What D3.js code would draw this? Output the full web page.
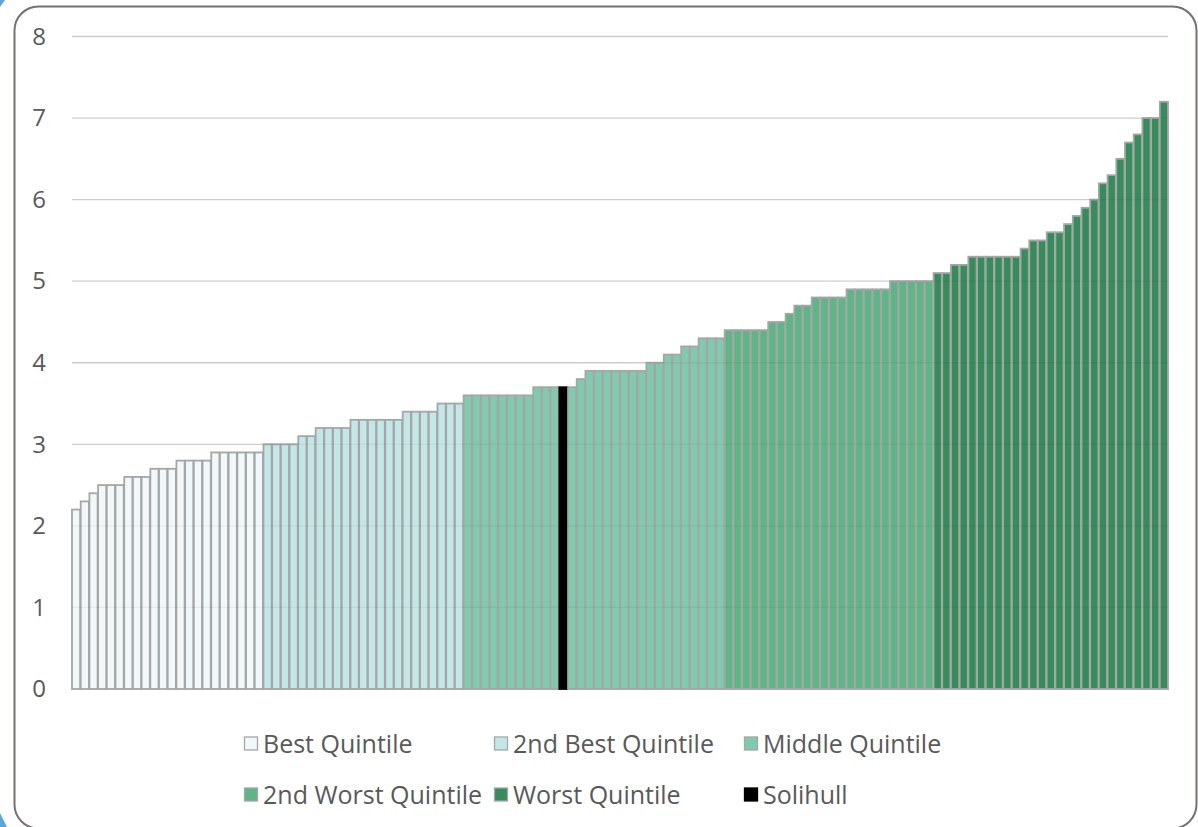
<!DOCTYPE html>
<html>
<head>
<meta charset="utf-8">
<script src="https://cdn.jsdelivr.net/npm/d3@7"></script>
<style>
  body { margin: 0; background: #fff; }
  svg { display: block; }
  .tick text { fill: #595959; }
</style>
</head>
<body>
<svg id="chart" width="1198" height="827"></svg>
<script>
// values, sorted ascending (one bar per area)
const bestValues = [2.2, 2.3, 2.4, 2.5, 2.5, 2.5, 2.6, 2.6, 2.6, 2.7, 2.7, 2.7,
  2.8, 2.8, 2.8, 2.8, 2.9, 2.9, 2.9, 2.9, 2.9, 2.9]
const secondBestValues = [3.0, 3.0, 3.0, 3.0, 3.1, 3.1, 3.2, 3.2, 3.2, 3.2,
  3.3, 3.3, 3.3, 3.3, 3.3, 3.3, 3.4, 3.4, 3.4, 3.4, 3.5, 3.5, 3.5]
const middleValues = [3.6, 3.6, 3.6, 3.6, 3.6, 3.6, 3.6, 3.6, 3.7, 3.7, 3.7,
  3.7, 3.7, 3.8, 3.9, 3.9, 3.9, 3.9, 3.9, 3.9, 3.9, 4.0, 4.0, 4.1, 4.1,
  4.2, 4.2, 4.3, 4.3, 4.3]
const secondWorstValues = [4.4, 4.4, 4.4, 4.4, 4.4, 4.5, 4.5, 4.6, 4.7, 4.7,
  4.8, 4.8, 4.8, 4.8, 4.9, 4.9, 4.9, 4.9, 4.9, 5.0, 5.0, 5.0, 5.0, 5.0]
const worstValues = [5.1, 5.1, 5.2, 5.2, 5.3, 5.3, 5.3, 5.3, 5.3, 5.3, 5.4,
  5.5, 5.5, 5.6, 5.6, 5.7, 5.8, 5.9, 6.0, 6.2, 6.3, 6.5, 6.7, 6.8, 7.0, 7.0, 7.2]

// Solihull is the 12th bar of the middle quintile
const solihullPosition = { group: 2, index: 11 }

const groupNames = ['Best Quintile', '2nd Best Quintile', 'Middle Quintile',
  '2nd Worst Quintile', 'Worst Quintile']
const groupColors = ['#F0F8FA', '#C3E7E6', '#80CAAF', '#5EB686', '#378C5C']
const yTicks = [0, 1, 2, 3, 4, 5, 6, 7, 8]

const groups = [bestValues, secondBestValues, middleValues, secondWorstValues, worstValues]
const bars = []
groups.forEach((vals, g) => {
  vals.forEach((v, i) => {
    const isSolihull = g === solihullPosition.group && i === solihullPosition.index
    bars.push({ id: bars.length, value: v, group: g, solihull: isSolihull })
  })
})

const svg = d3.select('#chart')
const font = 'Open Sans, Liberation Sans, sans-serif'

// outer frame and the blue bits at the left corners
svg.append('path').attr('d', 'M0,0 L5,0 L0,7 Z').attr('fill', '#5BA6DB')
svg.append('path').attr('d', 'M0,813 L7,827 L0,827 Z').attr('fill', '#5BA6DB')
svg.append('rect')
  .attr('x', 14.5).attr('y', 6.5)
  .attr('width', 1182).attr('height', 822)
  .attr('rx', 24)
  .attr('fill', '#fff')
  .attr('stroke', '#767171')
  .attr('stroke-width', 2)

const margin = { left: 72, right: 30, top: 36.5, bottom: 138 }
const width = 1198 - margin.left - margin.right
const height = 827 - margin.top - margin.bottom

const g = svg.append('g')
  .attr('transform', 'translate(' + margin.left + ',' + margin.top + ')')

const xScale = d3.scaleBand()
  .domain(bars.map(d => d.id))
  .range([0, width])
  .paddingInner(0.06)
  .paddingOuter(0)

const yScale = d3.scaleLinear()
  .domain([0, 8])
  .range([height, 0])

// gridlines
g.append('g')
  .attr('class', 'grid')
  .selectAll('line')
  .data(yTicks)
  .join('line')
  .attr('x1', 0)
  .attr('x2', width)
  .attr('y1', d => yScale(d))
  .attr('y2', d => yScale(d))
  .attr('stroke', '#D9D9D9')
  .attr('stroke-width', 1.3)

// bars
g.append('g')
  .selectAll('rect')
  .data(bars)
  .join('rect')
  .attr('x', d => xScale(d.id))
  .attr('width', xScale.bandwidth())
  .attr('y', d => yScale(d.value))
  .attr('height', d => yScale(0) - yScale(d.value))
  .attr('fill', d => d.solihull ? '#000' : groupColors[d.group])
  .attr('stroke', d => d.solihull ? '#000' : '#A6A6A6')
  .attr('stroke-width', 1.8)

// faint gridlines showing through the bars
g.append('g')
  .selectAll('line')
  .data(yTicks.slice(1))
  .join('line')
  .attr('x1', 0)
  .attr('x2', width)
  .attr('y1', d => yScale(d))
  .attr('y2', d => yScale(d))
  .attr('stroke', '#000')
  .attr('stroke-opacity', 0.05)
  .attr('stroke-width', 1.3)

// y axis
const yAxis = g.append('g')
  .attr('class', 'y-axis')
  .call(d3.axisLeft(yScale).tickValues(yTicks).tickSize(0).tickPadding(26))
yAxis.select('.domain').remove()
yAxis.selectAll('text')
  .attr('font-family', font)
  .attr('font-size', 24)

// legend
const legendItems = groupNames.map((name, i) => ({ name: name, color: groupColors[i], stroke: '#A6A6A6' }))
legendItems.push({ name: 'Solihull', color: '#000', stroke: '#000' })
const legendCols = [244, 494, 744]
const legendRows = [744, 795]

const legend = svg.append('g').attr('class', 'legend')
const item = legend.selectAll('g')
  .data(legendItems)
  .join('g')
  .attr('transform', (d, i) => 'translate(' + legendCols[i % 3] + ',' + legendRows[Math.floor(i / 3)] + ')')

item.append('rect')
  .attr('x', 0.5).attr('y', -7)
  .attr('width', 13).attr('height', 13)
  .attr('fill', d => d.color)
  .attr('stroke', d => d.stroke)
  .attr('stroke-width', 1.3)

item.append('text')
  .attr('x', 19)
  .attr('y', 0)
  .attr('dy', '0.35em')
  .attr('font-family', font)
  .attr('font-size', 25)
  .attr('fill', '#595959')
  .text(d => d.name)
</script>
</body>
</html>
